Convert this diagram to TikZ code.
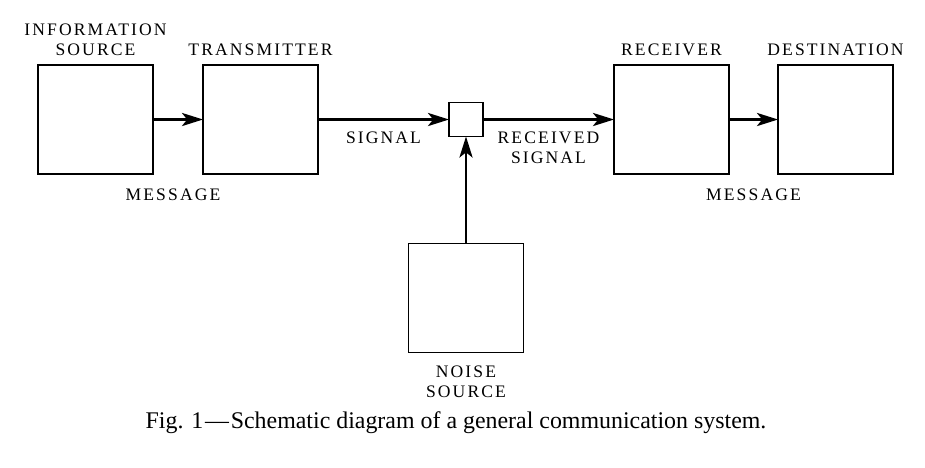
\documentclass[tikz,border=0pt]{standalone}
\usepackage{fontspec}
\setmainfont{Liberation Serif}
\newfontfamily\capsfont[LetterSpace=12]{Liberation Serif}
\usetikzlibrary{arrows.meta,positioning}

\begin{document}
\begin{tikzpicture}[
  >={Stealth[length=12pt, width=7.5pt, inset=3pt]},
  node distance=1cm,
  block/.style={rectangle, draw, line width=0.8pt, minimum width=2.3cm, minimum height=2.18cm, inner sep=0pt, outer sep=0pt},
  mixer/.style={rectangle, draw, line width=0.8pt, minimum size=0.68cm, inner sep=0pt, outer sep=0pt},
  arr/.style={->, line width=1.25pt},
  lbl/.style={font=\fontsize{10}{11.4}\capsfont, align=center, inner sep=0pt},
  figcap/.style={font=\fontsize{13.6}{15}\selectfont, inner sep=0pt},
]
\useasboundingbox (0,0) rectangle (18.5,-9.34);

\node[block] (src) at (1.91,-2.39) {};
\node[block, right=1cm of src] (tx) {};
\node[mixer, right=2.62cm of tx] (mix) {};
\node[block, right=2.62cm of mix] (rx) {};
\node[block, right=0.98cm of rx] (dst) {};
\node[block, below=2.14cm of mix] (noise) {};

\node[lbl, above=0.18cm of src] (srclbl) {INFORMATION\\SOURCE};
\node[lbl, above=0.18cm of tx] (txlbl) {TRANSMITTER};
\node[lbl, above=0.18cm of rx] (rxlbl) {RECEIVER};
\node[lbl, above=0.18cm of dst] (dstlbl) {DESTINATION};
\node[lbl, below=0.26cm of noise] (noiselbl) {NOISE\\SOURCE};

\draw[arr] (src) -- node[lbl, below=1.36cm, xshift=-0.1cm] {MESSAGE} (tx);
\draw[arr] (tx) -- node[lbl, below=0.22cm] {SIGNAL} (mix);
\draw[arr] (mix) -- node[lbl, below=0.22cm] {RECEIVED\\SIGNAL} (rx);
\draw[arr] (rx) -- node[lbl, below=1.36cm] {MESSAGE} (dst);
\draw[arr] (noise) -- (mix);

\node[figcap, anchor=base] (caption) at (9.12,-8.56) {Fig. 1\kern1pt---\kern1ptSchematic diagram of a general communication system.};

\end{tikzpicture}
\end{document}
